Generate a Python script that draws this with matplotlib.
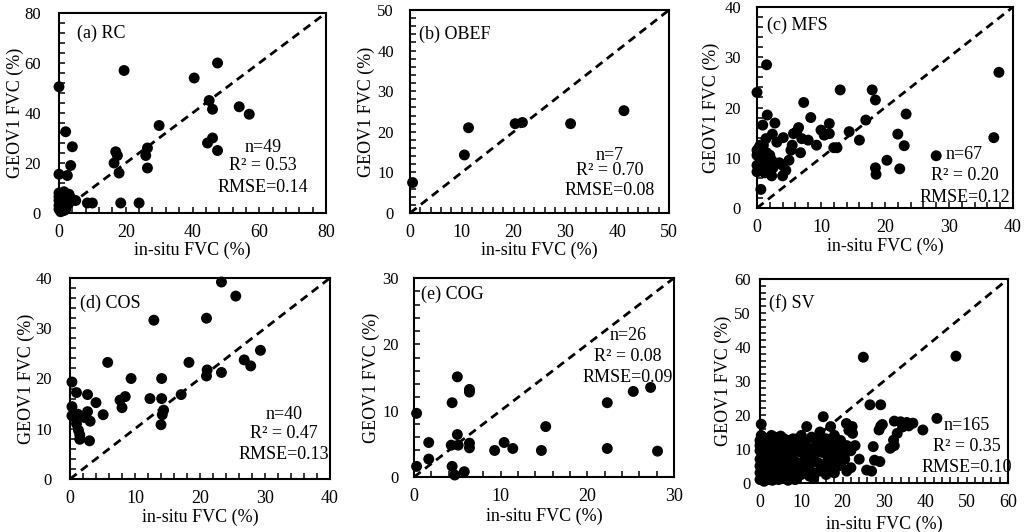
import matplotlib
matplotlib.use("Agg")
import matplotlib.pyplot as plt
from matplotlib.ticker import MultipleLocator

plt.rcParams['font.family'] = ['Liberation Serif', 'DejaVu Serif']
plt.rcParams['mathtext.fontset'] = 'stix'

# ---------------- data ----------------
# (a) RC
a_x = [0, 19.5, 40.5, 47.5, 45, 46, 54, 57, 30, 46, 44.5, 47.5, 26.5, 26, 26.5,
       17, 17.5, 16.5, 18, 18.5, 24, 8.5, 10, 5, 2, 4, 3.5, 0, 2.5,
       0, 0.5, 1, 0, 1, 0, 1, 2, 3, 0, 1.5, 0.5, 2.5, 3, 2, 0, 1.5, 0.5, 2, 3.5]
a_y = [50.5, 57, 54, 60, 45, 41.5, 42.5, 39.5, 35, 30, 28, 25, 26, 23, 18,
       24.5, 23, 20, 16, 4, 4, 4, 4, 5, 32.5, 26.5, 19, 15.5, 15,
       8, 7, 6, 5, 4.5, 3, 2, 3, 7.5, 1.5, 1, 0.5, 5, 4, 7, 6.5, 8.5, 3.5, 1.5, 6]

# (b) OBEF
b_x = [0.5, 10.5, 11.3, 20.3, 21.7, 31, 41.3]
b_y = [7.5, 14.3, 21, 22, 22.3, 22, 25.2]

# (c) MFS
c_x = [0, 1.5, 13, 18, 18.5, 37.8, 37, 23.3, 17, 22, 23, 16, 14.4, 28, 20.3,
       18.5, 18.6, 22.3, 12, 12.5, 9.3, 10, 11.3, 10.5, 11.3, 7.3, 8.4, 8, 6.5,
       5.7, 5.5, 5.3, 6.8, 5, 4, 4, 2.3, 1.6, 2.8, 0.9, 2.4, 3.1, 4.1, 0.5, 1.4,
       0.6, 6.2, 7, 3.5, 4.5,
       0, 0, 0, 0, 0.5, 0.5, 1, 1, 1.5, 1.5, 2, 2, 0.3, 1, 2.3, 2.5, 1.2]
c_y = [23, 28.5, 23.5, 23.5, 21.5, 27, 14, 18.7, 17.5, 14.7, 12.4, 13.5, 15.2, 10.4, 9.5,
       8, 6.7, 7.8, 12, 12, 12.5, 15.5, 16.8, 14.5, 14.8, 21, 18, 13.5, 16,
       14.8, 12.5, 11.5, 11, 9.5, 8.5, 6.4, 6.4, 18.5, 16.9, 16.5, 14.7, 13.1, 14, 12.5, 13.8,
       3.7, 15.2, 13.8, 9, 7.5,
       7.2, 8.5, 10.5, 11.5, 9, 7.5, 10, 8.2, 9.5, 11, 8.5, 10.5, 12, 12.5, 9.5, 8, 7]

# (d) COS
d_x = [25.5, 23.3, 12.9, 21, 29.3, 26.8, 27.8, 23.3, 21.1, 21, 18.3, 17.1, 5.8, 9.4,
       14.1, 12.3, 14.1, 14.4, 14.2, 14, 8.5, 7.7, 8, 5.1, 4, 2.7, 2.7, 3.1, 3,
       0.3, 1, 0.3, 0.3, 1.2, 1, 1.3, 1.5, 1.5, 0.6, 2.3]
d_y = [36.4, 39.2, 31.6, 32, 25.6, 23.7, 22.5, 21.2, 21.7, 20.5, 23.2, 16.8, 23.2, 20,
       20, 16, 16, 13.7, 12.8, 10.8, 16.4, 15.7, 14.2, 12.8, 15.2, 16.8, 13.4, 11.5, 7.6,
       19.3, 17.2, 14.4, 12.6, 12.9, 11, 9.7, 8.8, 7.9, 12.4, 12.2]

# (e) COG
e_x = [0.3, 0.3, 1.7, 1.7, 5, 4.4, 6.4, 6.4, 4.3, 5.1, 5, 6.4, 6.4, 4.4, 4.7, 5.8,
       9.3, 10.4, 11.4, 14.7, 15.2, 22.3, 22.3, 25.3, 27.3, 28.1]
e_y = [9.6, 1.6, 5.2, 2.7, 15.1, 11.2, 13.2, 12.8, 4.8, 4.8, 6.4, 5.1, 4.4, 1.6, 0.3, 0.8,
       4, 5.2, 4.3, 4, 7.6, 11.2, 4.3, 12.9, 13.5, 3.9]

# (f) SV
f_x = [0.3, 25, 47.4, 26.6, 29.2, 42.8, 39.4, 32.5, 34, 35.5, 37, 36, 34.5, 33.2, 32.3,
       31.5, 32.5, 29.2, 29.6, 28.8, 27.4, 29, 27.7, 25.8, 27, 24, 22.3, 20.9, 21.5, 22.4,
       15.3, 17.1, 11.3, 14.5, 16, 18, 19.5, 20, 21, 22, 19, 20.5, 22, 21, 18, 17, 16, 15,
       13, 12, 11, 14, 13, 12, 11, 10, 9, 13.5, 15, 17, 18.5, 16.5, 14, 12.5, 10, 10.5, 9,
       9, 10, 11, 9.5, 12, 13, 19, 17.5, 15.5,
       0, 0, 0, 0, 0, 0, 0, 0.5, 0.5, 0.5, 1, 1, 1, 1, 1.5, 1.5, 1.5, 2, 2, 2, 2, 2.5, 2.5,
       2.5, 3, 3, 3, 3, 3.5, 3.5, 3.5, 4, 4, 4, 4.5, 4.5, 4.5, 5, 5, 5, 5.5, 5.5, 6, 6, 6,
       6.5, 6.5, 7, 7, 7, 7.5, 7.5, 8, 8, 8, 8.5, 8.5, 9, 3.2, 5.8, 4.2, 6.8, 1.2, 0.3, 2.8,
       1.8, 3.8, 5.2, 6.2, 7.2, 8.2, 0.8, 2.2, 4.8, 6.6, 7.8, 9.5, 10.5, 11.5, 12.5, 13.5,
       14.5, 15.5, 16.5, 17.5, 18.5, 19.5, 20.5, 23, 12.8, 16.2, 11.8, 8.8, 3.6]
f_y = [17.3, 37, 37.3, 23, 23, 19, 15.6, 18.2, 18, 17.8, 17.6, 16.8, 16.5, 14.6, 12.6,
       10.2, 11, 16.7, 17.2, 15.6, 10.7, 6.3, 6.7, 3.8, 3.5, 7, 16.6, 17.5, 15.5, 14.6,
       19.5, 16.6, 16.6, 15, 13, 14, 12.5, 10, 11, 9.5, 8, 7, 4.5, 3.5, 3, 5, 2.5, 4,
       3, 2, 4, 6, 8, 10, 12, 14, 13, 11, 9, 10, 10.5, 7, 12.5, 13.5, 9, 6, 4,
       1.5, 2.5, 8, 11, 5.5, 1.5, 5, 12, 11,
       1, 3, 5, 7, 9.5, 11, 12.5, 2, 6, 10, 0.5, 4, 8, 12, 2.5, 6.5, 10.5, 1, 5, 9, 13, 3, 7,
       11, 0.8, 5.5, 9.5, 12.5, 2, 7.5, 13.5, 4, 10, 12, 1, 6, 8.5, 3, 11, 13.8, 5, 9, 1.5, 7, 12,
       3.5, 10, 5.5, 8.5, 12.5, 2, 11, 4, 7, 13, 9.5, 1, 6, 11, 13, 2.5, 0.8, 13.2, 14, 14,
       7.5, 8.5, 1.5, 4.5, 3.5, 5.5, 9, 1.5, 3.5, 6.5, 9.5, 2.5, 5.5, 7.5, 6.5, 9.5,
       3.5, 5.5, 7.5, 8.5, 6.5, 5.5, 8.5, 11, 7.5, 8.5, 5.5, 11.5, 10.5]

panels = [
    ("(a) RC", a_x, a_y, 80, 20, 4, "n=49", "0.53", "0.14"),
    ("(b) OBEF", b_x, b_y, 50, 10, 2, "n=7", "0.70", "0.08"),
    ("(c) MFS", c_x, c_y, 40, 10, 2, "n=67", "0.20", "0.12"),
    ("(d) COS", d_x, d_y, 40, 10, 2, "n=40", "0.47", "0.13"),
    ("(e) COG", e_x, e_y, 30, 10, 2, "n=26", "0.08", "0.09"),
    ("(f) SV", f_x, f_y, 60, 10, 2, "n=165", "0.35", "0.10"),
]

# ---------------- layout (pixels) ----------------
W, H = 1024, 532
boxes = [(59, 13, 326, 213), (410, 10, 669, 213), (757, 7, 1013, 208),
         (70, 278, 330, 479), (414, 278, 674, 477), (760, 279, 1008, 483)]
title_pos = [(0.067, 0.90), (0.035, 0.88), (0.04, 0.91),
             (0.038, 0.875), (0.027, 0.92), (0.036, 0.88)]
stat_x = [0.764, 0.77, 0.81, 0.823, 0.823, 0.835]
stat_y = [(0.33, 0.235, 0.13), (0.282, 0.207, 0.11), (0.264, 0.16, 0.054),
          (0.323, 0.224, 0.123), (0.709, 0.605, 0.50), (0.281, 0.181, 0.075)]
ylab_x = [-0.13, -0.134, -0.144, -0.134, -0.13, -0.113]
xlab_y = [-0.145, -0.14, -0.149, -0.149, -0.156, -0.162]
ypads = [13, 11.5, 11.5, 13, 11, 6.5]

fig = plt.figure(figsize=(W / 100, H / 100), dpi=100)
fs = 13

for i, (title, xs, ys, vmax, major, minor, ntxt, r2, rmse) in enumerate(panels):
    l, t, r, b = boxes[i]
    ax = fig.add_axes([l / W, (H - b) / H, (r - l) / W, (b - t) / H])
    ax.set_xlim(0, vmax)
    ax.set_ylim(0, vmax)
    ax.plot([0, vmax], [0, vmax], color='black', lw=2.0, dashes=(3, 2), zorder=2)
    ax.scatter(xs, ys, s=62, color='black', edgecolors='none', zorder=3, clip_on=False)
    ax.xaxis.set_major_locator(MultipleLocator(major))
    ax.yaxis.set_major_locator(MultipleLocator(major))
    ax.xaxis.set_minor_locator(MultipleLocator(minor))
    ax.yaxis.set_minor_locator(MultipleLocator(minor))
    ax.tick_params(which='both', direction='in', length=4, width=1.1,
                   top=False, right=False)
    ax.tick_params(axis='x', which='major', pad=8, labelsize=fs)
    ax.tick_params(axis='y', which='major', pad=ypads[i], labelsize=12)
    for sp in ax.spines.values():
        sp.set_linewidth(1.5)
    ax.set_xlabel("in-situ FVC (%)", fontsize=fs)
    ax.set_ylabel("GEOV1 FVC (%)", fontsize=fs)
    ax.xaxis.set_label_coords(0.5, xlab_y[i])
    ax.yaxis.set_label_coords(ylab_x[i], 0.5)
    ax.text(title_pos[i][0], title_pos[i][1], title, transform=ax.transAxes,
            ha='left', va='center', fontsize=fs)
    sx = stat_x[i]
    ax.text(sx, stat_y[i][0], ntxt, transform=ax.transAxes, ha='center', va='center', fontsize=fs)
    ax.text(sx, stat_y[i][1], "R² = " + r2, transform=ax.transAxes, ha='center', va='center', fontsize=fs)
    ax.text(sx, stat_y[i][2], "RMSE=" + rmse, transform=ax.transAxes, ha='center', va='center', fontsize=fs)

fig.savefig("out.png", dpi=100)
